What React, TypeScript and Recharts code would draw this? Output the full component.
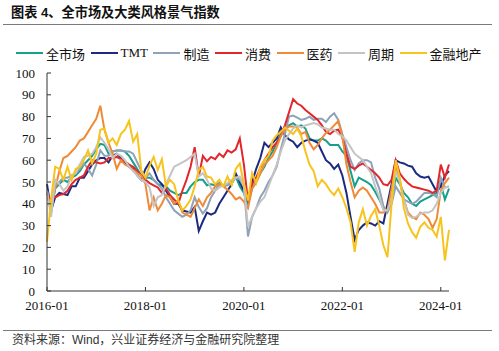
import React from 'react';
import { LineChart, Line, XAxis, YAxis } from 'recharts';

const START_YEAR = 2016;
const MONTH_COUNT = 99;
const months: string[] = Array.from({ length: MONTH_COUNT }, (_, i) =>
  `${START_YEAR + Math.floor(i / 12)}-${String((i % 12) + 1).padStart(2, '0')}`
);

const yTicks = [0, 10, 20, 30, 40, 50, 60, 70, 80, 90, 100];

const seriesNames = ['全市场', 'TMT', '制造', '消费', '医药', '周期', '金融地产'];
const seriesColors = ['#16a08c', '#1c2a80', '#8fa2b8', '#e3262b', '#f08a36', '#c4c4c4', '#f7c41d'];

const allMarket = [
  46, 36, 47, 49, 51, 50, 52, 53, 55, 58, 60, 62,
  65, 67.5, 67, 63, 64, 64.5, 64.5, 64, 62, 59, 56, 53,
  52, 52, 51, 49, 48.5, 48, 46, 45, 44, 45, 45, 48,
  50, 51, 51, 48.5, 49, 48.5, 49.5, 48.5, 49, 50, 52.5, 48,
  45, 40, 47, 50, 54, 57, 61, 64, 68, 72, 74, 76,
  77, 75.5, 76, 74.5, 70, 69, 69, 70, 69, 67, 67, 67,
  64, 62, 55, 48, 52, 51, 50, 48.5, 45.5, 42, 38, 37,
  41, 52, 49, 45, 43, 40, 39, 41, 42, 43, 44, 45,
  49, 42, 47,
];

const tmt = [
  49, 37, 43, 45, 44.5, 44, 48, 48, 52, 52, 55, 58,
  60, 61, 61, 59, 62, 63, 61, 59, 57, 56, 53, 51,
  56, 59, 56, 51, 49, 46, 43, 40, 40, 37, 36.5, 36,
  38.5, 27.5, 32, 36, 35, 36, 40, 43, 46, 49, 54, 50,
  46, 42, 50, 56, 61, 68, 66, 68, 70, 75, 71.5, 69.5,
  68.5, 66, 68, 69, 69.5, 69, 68, 64, 60, 58.5, 56, 58,
  53, 45, 34, 23.5, 28, 30, 31.5, 31, 30, 32, 31, 40,
  49, 60, 59, 58.5, 57.5, 57, 54, 52.5, 52, 52.5, 49, 45.5,
  48, 53, 55,
];

const manufacturing = [
  46, 37.5, 48, 50, 52, 52, 53, 54, 56, 58.5, 56, 53,
  58, 64.5, 62, 62, 64, 64.5, 64.5, 64, 64, 63, 59, 55,
  52, 54, 51, 49, 47, 43, 40, 37, 35.5, 34, 35, 37,
  43, 38.5, 35.5, 38, 43, 46, 49, 48, 48.5, 49.5, 52, 51,
  48, 25, 34, 38, 43, 46, 50, 53, 57, 65, 72, 80,
  80.5, 79.5, 78.5, 79, 80, 78.5, 79, 79, 77.5, 80, 81.5, 78.5,
  72, 66, 60, 55.5, 58.5, 60, 60, 59, 52, 47, 39, 36,
  40, 48, 45, 42, 41, 40, 41, 43, 45, 45, 44.5, 43,
  52, 47.5, 48,
];

const consumption = [
  44.5, 41.5, 43, 44, 44.5, 46, 49, 51, 52, 53, 57, 60,
  59, 58.5, 59, 61, 61, 61.5, 60.5, 59.5, 58, 57, 55, 53,
  51, 49.5, 48.5, 47.5, 45, 47, 44, 42, 40, 46, 51, 57,
  66, 52.5, 62, 59.5, 61.5, 60.5, 63, 61.5, 64.5, 63.5, 65, 70,
  58, 41, 49, 52, 56.5, 60, 63, 66, 68, 71, 76, 82,
  88, 86, 85, 83, 81.5, 80, 78.5, 76, 73, 72, 73.5, 74,
  70.5, 63, 57, 56, 57.5, 58.5, 57, 55.5, 54, 52, 49, 48.5,
  51, 60, 54, 51.5, 49.5, 48, 47.5, 47, 46.5, 46, 45, 46,
  58, 52, 58,
];

const pharma = [
  43, 40, 47, 55, 61, 62, 64, 66, 69, 70, 73, 76,
  79, 85, 74, 68, 63, 56, 60, 58, 57, 55.5, 54, 53,
  49, 37, 43, 37, 40, 44, 43, 40, 41.5, 36, 35, 34,
  38, 42, 39, 43, 45, 48, 49, 48, 46.5, 44.5, 42, 43,
  41, 38, 47, 50, 54, 58, 60, 62, 66, 71, 74, 75.5,
  75.5, 75, 72, 73, 68, 65, 67, 70, 72.5, 74, 76, 78,
  71, 58, 50, 43, 46, 47.5, 46, 43, 40, 36, 36, 37,
  47, 57, 51, 42, 36, 34, 33, 36, 35, 33, 29, 33,
  46, 49.5, 52,
];

const cyclical = [
  46, 34, 51, 49, 46, 48, 53, 54, 58, 61.5, 62, 63,
  66, 70.5, 68, 65, 61, 63, 62, 60, 57, 55, 53, 51,
  50, 47.5, 39, 43, 44, 49, 53, 57, 58, 59, 60, 61.5,
  63, 52.5, 54, 51, 47, 46, 47.5, 48.5, 49.5, 51, 52, 52.5,
  48, 29.5, 34, 38, 41, 43, 48, 53, 58, 64, 69, 72,
  74.5, 76, 75, 76, 76.5, 77, 76.5, 75, 74.5, 74, 74, 72,
  71, 69, 66, 63, 61.5, 60, 57, 54, 48, 43, 37, 37,
  42, 55, 50, 42, 35, 33.5, 34, 35.5, 36, 36, 37, 40,
  45, 47.5, 48,
];

const financeRealEstate = [
  22.5, 42, 57, 56, 51, 57, 51, 56, 57, 60, 64.5, 58.5,
  63, 74, 74.5, 68, 70, 67, 72, 74, 78, 68.5, 72, 55,
  52, 57.5, 61.5, 55.5, 60.5, 48, 51, 49, 41.5, 37, 39, 42,
  48, 55.5, 57, 52.5, 52, 49, 51, 48, 52.5, 48.5, 56, 58.5,
  49, 41.5, 54, 49.5, 57, 60, 62, 69, 71.5, 73, 75, 73.5,
  72, 74.5, 71, 64, 58, 55, 48, 51, 49, 46, 44, 47,
  43, 38, 31.5, 18, 31.5, 37.5, 30, 34.5, 37.5, 30, 21, 15.5,
  40, 60, 52, 38, 31, 27, 24.5, 29.5, 31.5, 29, 28, 25,
  34, 14, 28,
];

const seriesValues = [allMarket, tmt, manufacturing, consumption, pharma, cyclical, financeRealEstate];

const data = months.map((m, i) => {
  const row: Record<string, string | number> = { month: m };
  seriesNames.forEach((name, s) => {
    row[name] = seriesValues[s][i];
  });
  return row;
});

const serif = "'Liberation Serif', 'Times New Roman', 'Noto Sans CJK SC', serif";
const cjk = "'Liberation Sans', 'Noto Sans CJK SC', sans-serif";

export default function App() {
  return (
    <div
      style={{
        position: 'absolute',
        left: 0,
        top: 0,
        width: 499,
        height: 351,
        background: '#fff',
        overflow: 'hidden',
      }}
    >
      <div
        style={{
          position: 'absolute',
          left: 11,
          top: 4,
          lineHeight: '18px',
          fontSize: 13.2,
          fontWeight: 'bold',
          fontFamily: cjk,
          color: '#111',
          whiteSpace: 'nowrap',
        }}
      >
        图表 4、全市场及大类风格景气指数
      </div>
      <div style={{ position: 'absolute', left: 3, top: 24, width: 489, height: 1, background: '#7a7a7a' }} />

      <div
        style={{
          position: 'absolute',
          left: 16,
          top: 44,
          height: 18,
          display: 'flex',
          alignItems: 'center',
          fontFamily: serif,
          fontSize: 13,
          color: '#111',
          whiteSpace: 'nowrap',
        }}
      >
        {seriesNames.map((name, i) => (
          <div key={name} style={{ display: 'flex', alignItems: 'center', marginRight: 5.5 }}>
            <span style={{ display: 'inline-block', width: 27, height: 2, background: seriesColors[i], marginRight: 3 }} />
            <span>{name}</span>
          </div>
        ))}
      </div>

      <div style={{ position: 'absolute', left: 0, top: 0, fontFamily: serif }}>
        <LineChart
          width={499}
          height={351}
          data={data}
          margin={{ top: 73, right: 50, bottom: 0, left: 0 }}
          style={{ fontFamily: serif }}
        >
          <XAxis
            dataKey="month"
            interval={23}
            height={60}
            tickSize={-4}
            tickMargin={14}
            axisLine={{ stroke: '#333' }}
            tickLine={{ stroke: '#333' }}
            tick={{ fill: '#111', fontSize: 13, fontFamily: serif }}
          />
          <YAxis
            domain={[0, 100]}
            ticks={yTicks}
            width={47}
            tickSize={-4}
            tickMargin={16}
            axisLine={{ stroke: '#333' }}
            tickLine={{ stroke: '#333' }}
            tick={{ fill: '#111', fontSize: 13, fontFamily: serif }}
            interval={0}
          />
          {seriesNames.map((name, i) => (
            <Line
              key={name}
              type="linear"
              dataKey={name}
              stroke={seriesColors[i]}
              strokeWidth={2}
              dot={false}
              isAnimationActive={false}
            />
          ))}
        </LineChart>
      </div>

      <div style={{ position: 'absolute', left: 3, top: 330, width: 489, height: 1, background: '#7a7a7a' }} />
      <div
        style={{
          position: 'absolute',
          left: 12,
          top: 332,
          lineHeight: '16px',
          fontSize: 12,
          fontFamily: cjk,
          color: '#333',
          whiteSpace: 'nowrap',
        }}
      >
        资料来源：Wind，兴业证券经济与金融研究院整理
      </div>
    </div>
  );
}
